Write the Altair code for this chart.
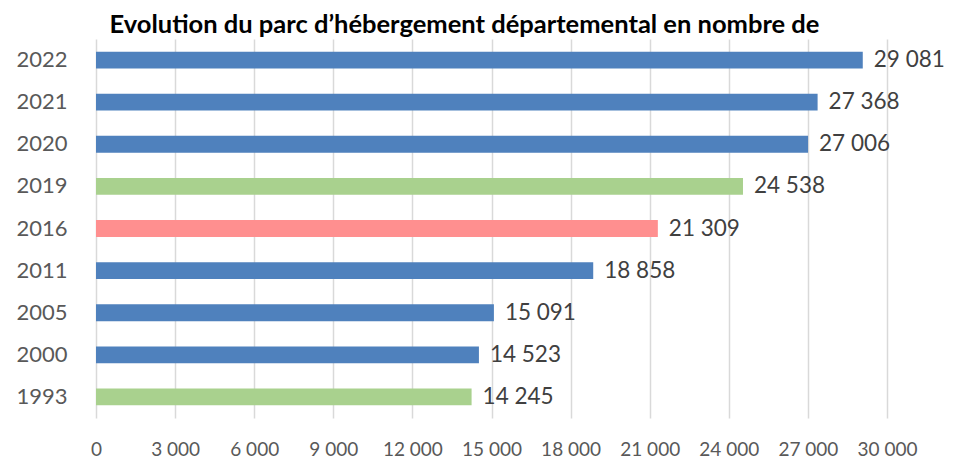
import altair as alt
import pandas as pd

years = ["2022", "2021", "2020", "2019", "2016", "2011", "2005", "2000", "1993"]
values = [29081, 27368, 27006, 24538, 21309, 18858, 15091, 14523, 14245]
groups = ["b", "b", "b", "g", "r", "b", "b", "b", "g"]
palette_keys = ["b", "g", "r"]
palette_colors = ["#4F81BD", "#A9D18E", "#FF8F8F"]
x_ticks = list(range(0, 30001, 3000))
title_text = "Evolution du parc d\u2019hébergement départemental en nombre de"

df = pd.DataFrame({"year": years, "value": values, "grp": groups})

FONT = "Lato"

y_enc = alt.Y("year:N", sort=years, title=None,
              scale=alt.Scale(paddingInner=0.6, paddingOuter=0.3),
              axis=alt.Axis(ticks=False, domain=False, labelFontSize=22,
                            labelColor="#595959", labelPadding=29,
                            labelFont=FONT, grid=False))

x_enc = alt.X("value:Q", title=None,
              scale=alt.Scale(domain=[0, 30000], nice=False),
              axis=alt.Axis(values=x_ticks, ticks=False, domain=False,
                            grid=True, gridColor="#D9D9D9", gridWidth=1.5,
                            labelFontSize=19, labelColor="#595959",
                            labelPadding=22, labelFont=FONT,
                            labelOverlap=False, labelFlush=False,
                            labelExpr="replace(format(datum.value, ','), ',', ' ')"))

bars = alt.Chart(df).mark_bar().encode(
    x=x_enc,
    y=y_enc,
    color=alt.Color("grp:N", scale=alt.Scale(domain=palette_keys, range=palette_colors), legend=None),
)

labels = alt.Chart(df).transform_calculate(
    lab="replace(format(datum.value, ','), ',', ' ')"
).mark_text(align="left", baseline="middle", dx=11, fontSize=22.5,
            color="#404040", font=FONT).encode(
    x="value:Q",
    y=alt.Y("year:N", sort=years),
    text="lab:N",
)

chart = (bars + labels).properties(
    width=791, height=379,
    autosize=alt.AutoSizeParams(type="none"),
    padding={"left": 88, "top": 31, "right": 59, "bottom": 45},
    title=alt.TitleParams(title_text, anchor="middle", frame="group", dx=-27,
                          fontSize=25.5, font=FONT, fontWeight="bold",
                          color="#000000", offset=1),
).configure_view(stroke=None)

chart.save("out.html", embed_options={"renderer": "svg", "actions": False})
